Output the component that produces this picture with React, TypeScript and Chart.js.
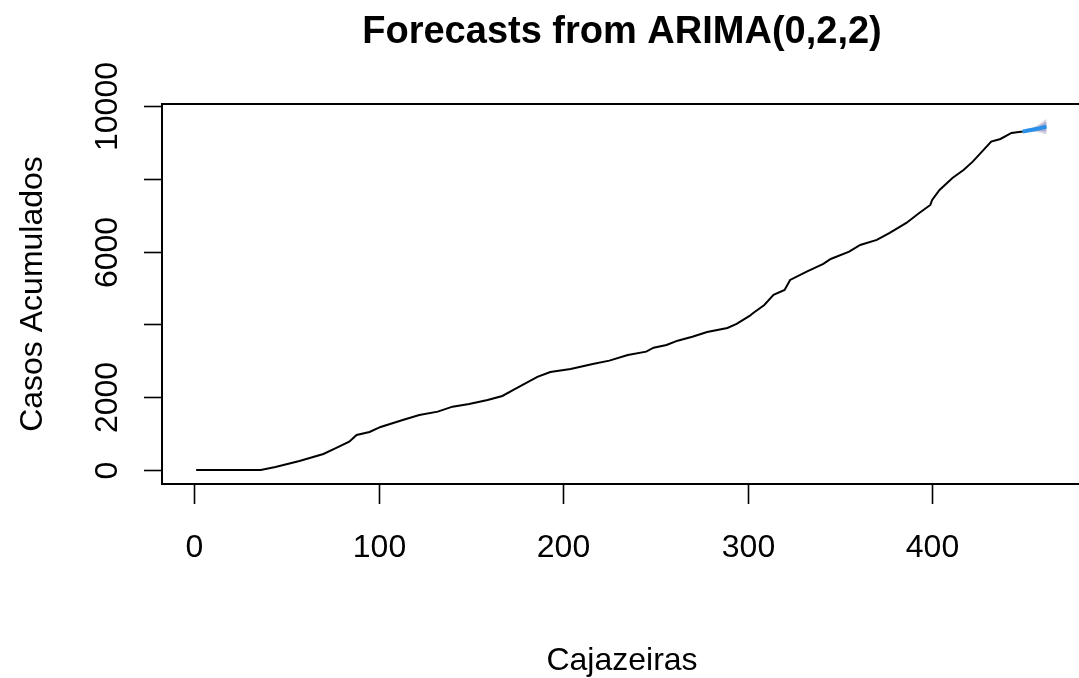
import React, { useEffect, useRef } from 'react';
import { Chart, registerables } from 'chart.js';

Chart.register(...registerables);

// ---- data ----
const actualDays = [1, 36, 44, 57, 70, 77, 84, 88, 95, 101, 113, 122, 132, 140, 149, 159, 167, 173, 180, 186, 193, 204, 216, 225, 235, 245, 249, 256, 262, 270, 278, 289, 294, 301, 303, 309, 314, 320, 323, 332, 341, 345, 355, 361, 370, 377, 386, 393, 399, 400, 404, 411, 417, 422, 427, 432, 437, 443, 448, 449];
const actualCases = [0, 0, 82, 247, 440, 605, 778, 962, 1045, 1182, 1375, 1512, 1603, 1740, 1814, 1924, 2034, 2199, 2392, 2557, 2694, 2776, 2914, 3005, 3161, 3252, 3362, 3436, 3554, 3664, 3794, 3904, 4014, 4233, 4316, 4536, 4811, 4948, 5223, 5451, 5663, 5800, 6001, 6185, 6323, 6515, 6790, 7065, 7285, 7422, 7697, 8027, 8247, 8475, 8750, 9025, 9099, 9264, 9300, 9300];

const forecastDays = [449, 452, 455, 458, 462];
const forecastMean = [9300, 9330, 9360, 9390, 9437];
const hi80 = [9300, 9346, 9400, 9462, 9577];
const lo80 = [9300, 9314, 9320, 9318, 9297];
const hi95 = [9300, 9355, 9420, 9500, 9652];
const lo95 = [9300, 9305, 9300, 9280, 9222];

const xTicks = [0, 100, 200, 300, 400];
const xTickLabels = ['0', '100', '200', '300', '400'];
const yTicks = [0, 2000, 4000, 6000, 8000, 10000];
const yTickLabels = ['0', '2000', '', '6000', '', '10000'];

const titleText = 'Forecasts from ARIMA(0,2,2)';
const xTitle = 'Cajazeiras';
const yTitle = 'Casos Acumulados';

const FONT = "'Liberation Sans', Arial, sans-serif";

const pts = (xs: number[], ys: number[]) => xs.map((x, i) => ({ x, y: ys[i] }));

const framePlugin = {
  id: 'rframe',
  beforeDraw(chart: any) {
    const ctx = chart.ctx;
    ctx.save();
    ctx.fillStyle = '#ffffff';
    ctx.fillRect(0, 0, chart.width, chart.height);
    ctx.restore();
  },
  afterDraw(chart: any) {
    const { ctx, chartArea: a, scales } = chart;
    const x = scales.x;
    const y = scales.y;
    ctx.save();
    ctx.strokeStyle = '#000';
    ctx.lineWidth = 2;
    ctx.beginPath();
    ctx.moveTo(chart.width, a.top);
    ctx.lineTo(a.left, a.top);
    ctx.lineTo(a.left, a.bottom);
    ctx.lineTo(chart.width, a.bottom);
    ctx.stroke();

    ctx.lineWidth = 1.6;
    ctx.fillStyle = '#000';
    ctx.font = `32px ${FONT}`;
    // x ticks
    ctx.textAlign = 'center';
    ctx.textBaseline = 'alphabetic';
    xTicks.forEach((v, i) => {
      const px = Math.round(x.getPixelForValue(v)) + 0.5;
      ctx.beginPath();
      ctx.moveTo(px, a.bottom);
      ctx.lineTo(px, a.bottom + 20);
      ctx.stroke();
      ctx.fillText(xTickLabels[i], px, 557);
    });
    // y ticks
    yTicks.forEach((v, i) => {
      const py = Math.round(y.getPixelForValue(v)) + 0.5;
      ctx.beginPath();
      ctx.moveTo(a.left, py);
      ctx.lineTo(a.left - 18, py);
      ctx.stroke();
      if (yTickLabels[i]) {
        ctx.save();
        ctx.translate(117, py);
        ctx.rotate(-Math.PI / 2);
        ctx.textAlign = 'center';
        ctx.fillText(yTickLabels[i], 0, 0);
        ctx.restore();
      }
    });
    // axis titles
    ctx.textAlign = 'center';
    ctx.fillText(xTitle, 622, 670);
    ctx.save();
    ctx.translate(42, (a.top + a.bottom) / 2);
    ctx.rotate(-Math.PI / 2);
    ctx.fillText(yTitle, 0, 0);
    ctx.restore();
    // main title
    ctx.font = `bold 38px ${FONT}`;
    ctx.fillText(titleText, 622, 43);
    ctx.restore();
  },
};

export default function App() {
  const ref = useRef<HTMLCanvasElement | null>(null);
  useEffect(() => {
    if (!ref.current) return;
    const chart = new Chart(ref.current, {
      type: 'line',
      data: {
        datasets: [
          {
            label: 'actual',
            data: pts(actualDays, actualCases),
            borderColor: '#000000',
            borderWidth: 2,
            fill: false,
            order: 0,
          },
          {
            label: 'forecast',
            data: pts(forecastDays, forecastMean),
            borderColor: '#2a8fe6',
            borderWidth: 4,
            fill: false,
            order: 1,
          },
          {
            label: 'hi80',
            data: pts(forecastDays, hi80),
            borderWidth: 0,
            borderColor: 'rgba(0,0,0,0)',
            fill: false,
            order: 2,
          },
          {
            label: 'lo80',
            data: pts(forecastDays, lo80),
            borderWidth: 0,
            borderColor: 'rgba(0,0,0,0)',
            backgroundColor: '#a9acd2',
            fill: '-1',
            order: 3,
          },
          {
            label: 'hi95',
            data: pts(forecastDays, hi95),
            borderWidth: 0,
            borderColor: 'rgba(0,0,0,0)',
            fill: false,
            order: 4,
          },
          {
            label: 'lo95',
            data: pts(forecastDays, lo95),
            borderWidth: 0,
            borderColor: 'rgba(0,0,0,0)',
            backgroundColor: '#d6d6e2',
            fill: '-1',
            order: 5,
          },
        ],
      },
      options: {
        responsive: false,
        animation: false,
        parsing: true,
        layout: { padding: { left: 162, top: 104, right: 0, bottom: 194 } },
        elements: { point: { radius: 0 }, line: { tension: 0 } },
        scales: {
          x: { type: 'linear', min: -17.5, max: 479.6, display: false },
          y: { type: 'linear', min: -386, max: 10060, display: false },
        },
        plugins: { legend: { display: false }, tooltip: { enabled: false } },
      },
      plugins: [framePlugin],
    } as any);
    return () => chart.destroy();
  }, []);
  return (
    <div style={{ position: 'fixed', left: 0, top: 0, width: 1079, height: 678, background: '#fff' }}>
      <canvas ref={ref} width={1079} height={678} style={{ display: 'block' }} />
    </div>
  );
}
